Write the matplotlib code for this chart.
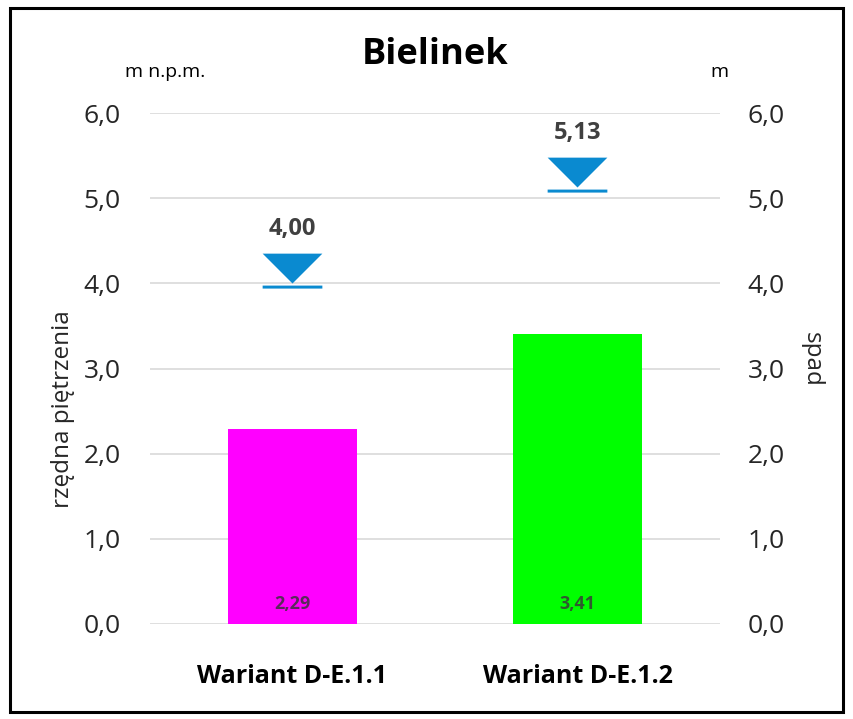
import matplotlib
matplotlib.use("Agg")
import matplotlib.pyplot as plt
from matplotlib.path import Path
from matplotlib.patches import Rectangle
import numpy as np

plt.rcParams['font.family'] = ['Open Sans', 'DejaVu Sans']

title = "Bielinek"
categories = ["Wariant D-E.1.1", "Wariant D-E.1.2"]
spad = [2.29, 3.41]           # bars (m)
rzedna = [4.00, 5.13]         # water level markers (m n.p.m.)
bar_colors = ["#FF00FF", "#00FF00"]
yticks = [0, 1, 2, 3, 4, 5, 6]

def fmt(v, d):
    return f"{v:.{d}f}".replace(".", ",")

fig = plt.figure(figsize=(8.54, 7.19), dpi=100)
ax = fig.add_axes([150/854, 1-624/719, 570/854, 511/719])
ax2 = ax.twinx()

x = np.arange(len(categories))
ax.bar(x, spad, width=0.456, color=bar_colors, zorder=2)
for xi, v in zip(x, spad):
    ax.annotate(fmt(v, 2), (xi, 0), xytext=(0, 14.5), textcoords="offset points",
                ha="center", va="center", fontsize=13, fontweight="bold",
                color="#5a2a5a" if xi == 0 else "#2f5a2f")

# water level marker: triangle with apex at value and a line below
verts = [(-1, 1), (1, 1), (0, 0), (-1, 1),
         (-1.0, -0.07), (1.0, -0.07), (1.0, -0.17), (-1.0, -0.17), (-1.0, -0.07)]
codes = [Path.MOVETO, Path.LINETO, Path.LINETO, Path.CLOSEPOLY,
         Path.MOVETO, Path.LINETO, Path.LINETO, Path.LINETO, Path.CLOSEPOLY]
mpath = Path(verts, codes)
ax.plot(x, rzedna, linestyle="none", marker=mpath, markersize=43,
        color="#0A8AD0", markeredgewidth=0, zorder=3)
for xi, v in zip(x, rzedna):
    ax.annotate(fmt(v, 2), (xi, v), xytext=(0, 39), textcoords="offset points",
                ha="center", va="center", fontsize=17, fontweight="bold",
                color="#404040")

for a in (ax, ax2):
    a.set_ylim(0, 6)
    a.set_yticks(yticks)
    a.set_yticklabels([fmt(t, 1) for t in yticks], fontsize=19, color="#262626")
    for s in a.spines.values():
        s.set_visible(False)
    a.tick_params(axis="y", length=0)
ax.tick_params(axis="y", pad=21)
ax2.tick_params(axis="y", pad=20)
ax.set_xlim(-0.5, 1.5)
ax.set_xticks(x)
ax.set_xticklabels(categories, fontsize=18, fontweight="bold", color="black")
ax.tick_params(axis="x", length=0, pad=29)
ax.grid(axis="y", color="#D9D9D9", linewidth=1.2, zorder=0)
ax.set_axisbelow(True)

fig.text(435/854, 1-55/719, title, ha="center", va="center",
         fontsize=26, fontweight="bold", color="black")
fig.text(165/854, 1-72/719, "m n.p.m.", ha="center", va="center",
         fontsize=14, color="black")
fig.text(719/854, 1-72/719, "m", ha="center", va="center",
         fontsize=14, color="black")
fig.text(63/854, 1-409/719, "rzędna piętrzenia", rotation=90,
         ha="center", va="center", fontsize=17.5, color="#262626")
fig.text(812/854, 1-359/719, "spad", rotation=270,
         ha="center", va="center", fontsize=17.5, color="#262626")

fig.patches.append(Rectangle((10/854, 1-712/719), 833/854, 704/719,
                             transform=fig.transFigure, fill=False,
                             edgecolor="black", linewidth=2.2))

fig.savefig("out.png", dpi=100)
